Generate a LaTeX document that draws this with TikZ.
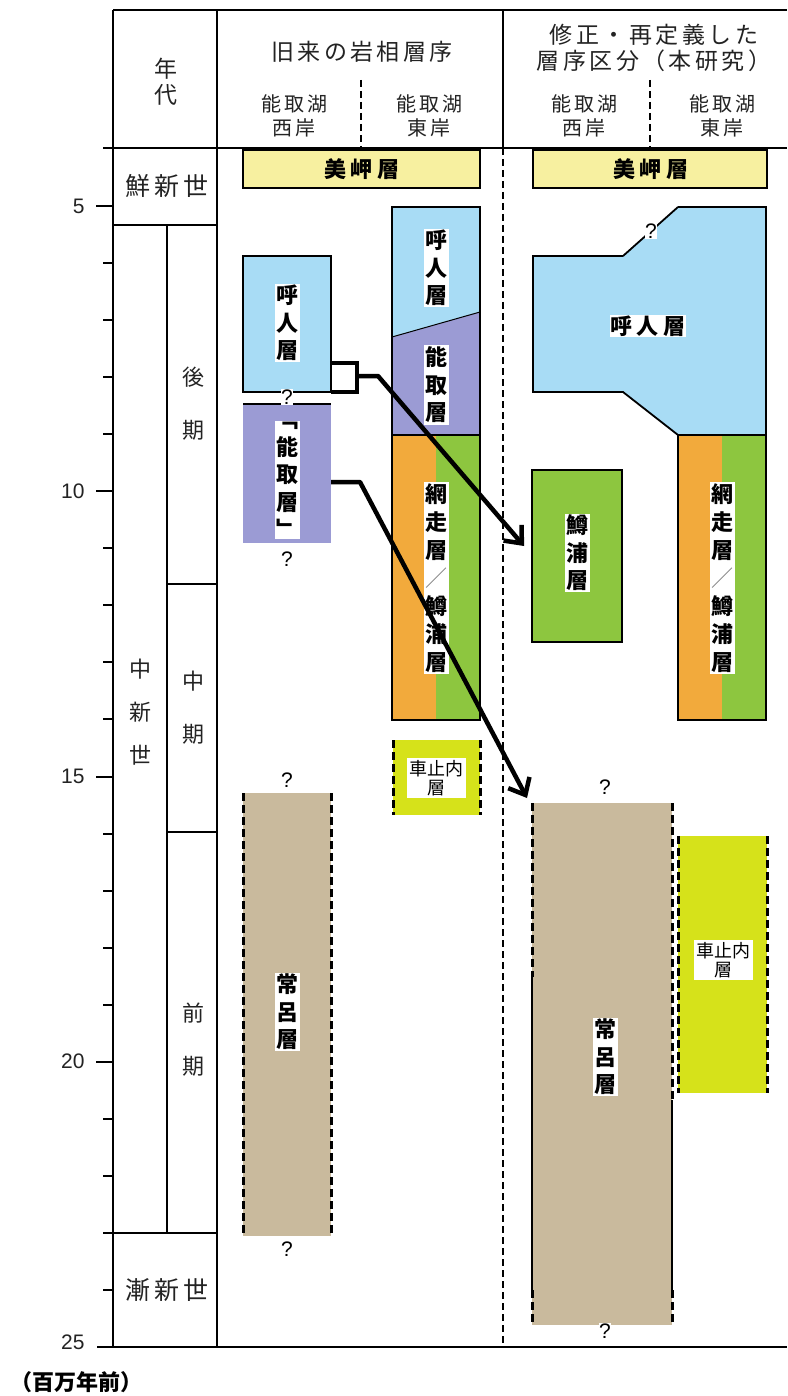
\documentclass[tikz,border=0pt]{standalone}
\usepackage{fontspec}
\setmainfont{Liberation Sans}
\newfontfamily\jp{Noto Sans CJK JP}
\newfontfamily\jpw[LetterSpace=15]{Noto Sans CJK JP}
\newfontfamily\jpv[LetterSpace=20]{Noto Sans CJK JP}
\usetikzlibrary{arrows.meta}
\definecolor{cBlue}{RGB}{168,220,245}
\definecolor{cLav}{RGB}{155,155,212}
\definecolor{cOrange}{RGB}{242,170,60}
\definecolor{cGreen}{RGB}{141,198,63}
\definecolor{cTan}{RGB}{201,186,157}
\definecolor{cYG}{RGB}{214,226,26}
\definecolor{cYel}{RGB}{247,240,160}
\definecolor{cText}{RGB}{35,35,35}
\begin{document}
\begin{tikzpicture}[x=1pt,y=-1pt,
  frame/.style={line width=2.8pt},
  inner/.style={line width=2.2pt},
  tick/.style={line width=2pt},
  box/.style={draw=black,line width=1.8pt},
  sidedash/.style={line width=3pt,dash pattern=on 8pt off 4pt},
  divider/.style={line width=2.2pt,dash pattern=on 7pt off 4pt},
  arr/.style={line width=4.5pt,-{Straight Barb[length=14pt,width=24pt]}},
  lab/.style={fill=white,inner sep=1.5pt,align=center,text=black,
    font=\jp\bfseries\fontsize{22}{27.5}\selectfont},
  hlab/.style={inner sep=1pt,align=center,text=black,
    font=\jpv\bfseries\fontsize{22}{26}\selectfont},
  small/.style={fill=white,inner sep=2.5pt,align=center,text=black,
    font=\jp\fontsize{18}{19}\selectfont},
  qm/.style={fill=white,inner sep=0.6pt,text=black,font=\fontsize{21}{21}\selectfont},
  head/.style={align=center,text=cText,font=\jpw\fontsize{23}{26}\selectfont},
  sub/.style={align=center,text=cText,font=\jpw\fontsize{20}{24}\selectfont},
  epoch/.style={align=center,text=cText,font=\jpw\fontsize{25}{27}\selectfont},
  per/.style={align=center,text=cText,font=\jp\fontsize{22}{53}\selectfont},
  num/.style={anchor=east,text=cText,font=\fontsize{21}{21}\selectfont}
]
\useasboundingbox (0,0) rectangle (787,1396);
\fill[white] (0,0) rectangle (787,1396);

% ---------- Misaki formation ----------
\draw[box,fill=cYel] (243,150) rectangle (480,188);
\node[hlab] (misakiL) at (362,169) {美岬層};
\draw[box,fill=cYel] (533,150) rectangle (767,188);
\node[hlab] (misakiR) at (651,169) {美岬層};

% ---------- old: west shore ----------
\draw[box,fill=cBlue] (243,256) rectangle (331,392);
\fill[cLav] (243,404) rectangle (331,543);
\draw[line width=1.8pt] (243,404) -- (331,404);
\fill[cTan] (243,793) rectangle (331,1236);
\draw[sidedash] (243,793) -- (243,1236);
\draw[sidedash] (331,793) -- (331,1236);

% ---------- old: east shore ----------
\fill[cLav] (392,337) -- (480,312) -- (480,435) -- (392,435) -- cycle;
\fill[cBlue] (392,337) -- (480,312) -- (480,207) -- (392,207) -- cycle;
\fill[cOrange] (392,435) rectangle (436,720);
\fill[cGreen] (436,435) rectangle (480,720);
\draw[line width=1pt] (392,337) -- (480,312);
\draw[line width=1.8pt] (392,435) -- (480,435);
\draw[box] (392,207) rectangle (480,720);
\fill[cYG] (393,740) rectangle (480,815);
\draw[sidedash] (393,740) -- (393,815);
\draw[sidedash] (480,740) -- (480,815);

% ---------- new: west shore ----------
\fill[cBlue] (678,207) -- (766,207) -- (766,435) -- (678,435) -- (623,392)
  -- (533,392) -- (533,256) -- (623,256) -- cycle;
\draw[line width=1.8pt,line join=miter] (623,256) -- (533,256) -- (533,392) -- (623,392)
  -- (678,435) -- (766,435) -- (766,207) -- (678,207);
\draw[line width=1.8pt] (678,207) -- (623,256);
\draw[box,fill=cGreen] (532,470) rectangle (622,642);
\fill[cTan] (532,803) rectangle (672,1325);
\draw[sidedash] (532,803) -- (532,977);
\draw[line width=2.2pt] (532,977) -- (532,1290);
\draw[sidedash] (532,1290) -- (532,1325);
\draw[sidedash] (672,803) -- (672,1100);
\draw[line width=2.2pt] (672,1100) -- (672,1290);
\draw[sidedash] (672,1290) -- (672,1325);

% ---------- new: east shore ----------
\fill[cOrange] (678,435) rectangle (722,720);
\fill[cGreen] (722,435) rectangle (766,720);
\draw[box] (678,435) rectangle (766,720);
\fill[cYG] (678,836) rectangle (767,1093);
\draw[sidedash] (678,836) -- (678,1093);
\draw[sidedash] (767,836) -- (767,1093);

% ---------- labels ----------
\node[lab] (yobitoL) at (287,323) {呼\\人\\層};
\node[qm] (qL1) at (287,397) {?};
\node[lab] (notoriL) at (287,480) {﹁\\能\\取\\層\\﹂};
\node[qm] (qL2) at (287,559) {?};
\node[qm] (qL3) at (287,780) {?};
\node[lab] (tokoroL) at (287,1012) {常\\呂\\層};
\node[qm] (qL4) at (287,1249) {?};

\node[lab] (yobitoE) at (436,268) {呼\\人\\層};
\node[lab] (notoriE) at (436,385) {能\\取\\層};
\node[lab,font=\jp\bfseries\fontsize{22}{28}\selectfont] (abashiriE) at (436,578)
  {網\\走\\層\\{\color{gray}\mdseries／}\\鱒\\浦\\層};
\node[small] (kurumaE) at (436,778) {車止内\\層};

\node[hlab,fill=white] (yobitoR) at (648,326) {呼人層};
\node[qm] (qR1) at (651,231) {?};
\node[lab] (masuuraR) at (577,553) {鱒\\浦\\層};
\node[lab,font=\jp\bfseries\fontsize{22}{28}\selectfont] (abashiriR) at (722,578)
  {網\\走\\層\\{\color{gray}\mdseries／}\\鱒\\浦\\層};
\node[qm] (qR2) at (605,787) {?};
\node[lab] (tokoroR) at (605,1057) {常\\呂\\層};
\node[qm] (qR3) at (605,1331) {?};
\node[small] (kurumaR) at (723,960) {車止内\\層};

% ---------- bracket and arrows ----------
\coordinate (brT) at (331,363);
\coordinate (brB) at (331,392);
\draw[line width=4pt,line join=miter] (brT) -- (357,363) -- (357,392) -- (brB);
\coordinate (a1s) at (357,376);
\coordinate (a1m) at (378,376);
\coordinate (a1e) at (524,546);
\draw[arr,line join=round] (a1s) -- (a1m) -- (a1e);
\coordinate (a2s) at (331,482);
\coordinate (a2m) at (360,482);
\coordinate (a2e) at (527,798);
\draw[arr,line join=round] (a2s) -- (a2m) -- (a2e);

% ---------- frame ----------
\draw[frame] (113,10) -- (787,10);
\draw[frame] (113,10) -- (113,1347);
\draw[frame] (217,10) -- (217,1347);
\draw[frame] (503,10) -- (503,148);
\draw[divider] (503,148) -- (503,1347);
\draw[frame] (103,148) -- (787,148);
\draw[frame] (97,1347) -- (787,1347);
\draw[inner] (113,225) -- (217,225);
\draw[inner] (167,225) -- (167,1233);
\draw[inner] (167,584) -- (217,584);
\draw[inner] (167,832) -- (217,832);
\draw[inner] (103,1233) -- (217,1233);
\draw[line width=2.4pt,dash pattern=on 7pt off 4pt] (361,80) -- (361,148);
\draw[line width=2.4pt,dash pattern=on 7pt off 4pt] (650,80) -- (650,148);
\foreach \t in {6,7,8,9,11,12,13,14,16,17,18,19,21,22,24}
  \draw[tick] (103,{206+(\t-5)*57.05}) -- (113,{206+(\t-5)*57.05});
\foreach \t in {5,10,15,20}
  \draw[tick] (96,{206+(\t-5)*57.05}) -- (113,{206+(\t-5)*57.05});
\node[num] (n5) at (88,206) {5};
\node[num] (n10) at (88,491) {10};
\node[num] (n15) at (88,776) {15};
\node[num] (n20) at (88,1061) {20};
\node[num] (n25) at (88,1342) {25};
\node[font=\jp\bfseries\fontsize{22}{22}\selectfont,text=black] (unit) at (76,1382) {（百万年前）};

% ---------- header ----------
\node[head,font=\jp\fontsize{23}{26}\selectfont] (nendai) at (166,82) {年\\代};
\node[head] (kyurai) at (362,52) {旧来の岩相層序};
\node[sub] (oldW) at (294,116) {能取湖\\西岸};
\node[sub] (oldE) at (429,116) {能取湖\\東岸};
\node[head] (shusei) at (654,48) {修正・再定義した\\層序区分（本研究）};
\node[sub] (newW) at (584,116) {能取湖\\西岸};
\node[sub] (newE) at (722,116) {能取湖\\東岸};

% ---------- epochs ----------
\node[epoch] (plio) at (167,186) {鮮新世};
\node[align=center,text=cText,font=\jp\fontsize{22}{43}\selectfont] (mio) at (140,712) {中\\新\\世};
\node[per] (late) at (193,404) {後\\期};
\node[per] (mid) at (193,708) {中\\期};
\node[per] (early) at (193,1040) {前\\期};
\node[epoch] (oligo) at (167,1290) {漸新世};
\end{tikzpicture}
\end{document}
